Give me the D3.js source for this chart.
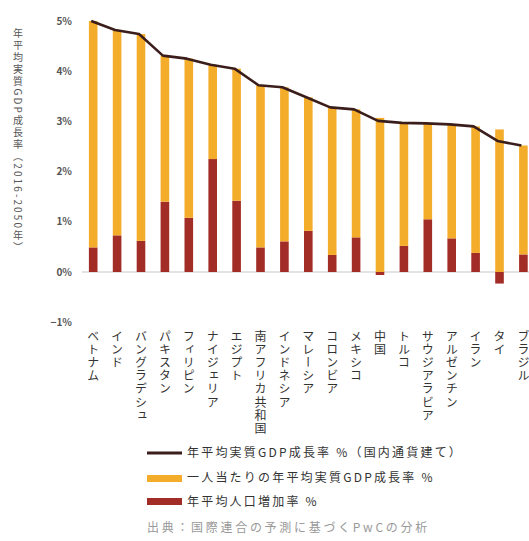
<!DOCTYPE html>
<html><head><meta charset="utf-8">
<script src="https://cdn.jsdelivr.net/npm/d3@7"></script>
<style>
html,body{margin:0;padding:0;background:#fff;}
svg{display:block;font-family:"Noto Sans CJK JP","Noto Sans",sans-serif;}
</style></head>
<body>
<svg id="chart" width="529" height="541"></svg>
<script>
const countries = ["ベトナム","インド","バングラデシュ","パキスタン","フィリピン","ナイジェリア","エジプト","南アフリカ共和国","インドネシア","マレーシア","コロンビア","メキシコ","中国","トルコ","サウジアラビア","アルゼンチン","イラン","タイ","ブラジル"];
const gdpGrowth = [5.0,4.82,4.74,4.31,4.25,4.13,4.05,3.72,3.68,3.48,3.28,3.24,3.01,2.97,2.96,2.94,2.90,2.61,2.52];
const popGrowth = [0.49,0.73,0.62,1.40,1.08,2.25,1.42,0.49,0.61,0.82,0.34,0.69,-0.06,0.52,1.05,0.67,0.38,-0.23,0.35];
const perCapita = [4.51,4.09,4.12,2.91,3.17,1.88,2.63,3.23,3.07,2.66,2.94,2.55,3.07,2.45,1.91,2.27,2.52,2.84,2.17];
const yTicks = [-1,0,1,2,3,4,5];
const yTickLabels = ["−1%","0%","1%","2%","3%","4%","5%"];
const yTitle = "年平均実質GDP成長率（2016-2050年）";
const legendLabels = ["年平均実質GDP成長率 %（国内通貨建て）","一人当たりの年平均実質GDP成長率 %","年平均人口増加率 %"];
const sourceText = "出典：国際連合の予測に基づくPwCの分析";

const C_YEL="#f3ad2b", C_RED="#a22c26", C_LINE="#3b1e1b";
const svg = d3.select("#chart");
const x = d3.scaleBand().domain(countries).range([73.6,543]).paddingInner(0.64).paddingOuter(0.64);
const y = d3.scaleLinear().domain([-1,5]).range([322.2,21]);

// zero line
svg.append("line").attr("x1",82).attr("x2",529).attr("y1",y(0)).attr("y2",y(0))
  .attr("stroke","#c8c8c8").attr("stroke-width",1.2);

// y tick labels
svg.append("g").selectAll("text").data(yTicks).join("text")
  .attr("x",72).attr("y",d=>y(d)).attr("dy","0.35em").attr("text-anchor","end")
  .attr("font-size",10).attr("fill","#555").attr("font-weight","bold")
  .text((d,i)=>yTickLabels[i]);

// y title (vertical writing)
svg.append("text").attr("x",18).attr("y",28)
  .style("writing-mode","vertical-rl")
  .attr("font-size",10).attr("letter-spacing",2.1).attr("fill","#555")
  .text(yTitle);

// stacked bars (diverging)
const rows = countries.map((c,i)=>({c, pop:popGrowth[i], pc:perCapita[i]}));
const stack = d3.stack().keys(["pop","pc"]).offset(d3.stackOffsetDiverging);
const series = stack(rows);
const colors = {pop:C_RED, pc:C_YEL};
svg.append("g").selectAll("g").data(series).join("g").attr("fill",s=>colors[s.key])
  .selectAll("rect").data(s=>s).join("rect")
  .attr("x",d=>x(d.data.c)).attr("width",x.bandwidth())
  .attr("y",d=>y(Math.max(d[0],d[1])))
  .attr("height",d=>Math.abs(y(d[0])-y(d[1])));

// total GDP line
const line = d3.line().x(d=>x(d[0])+x.bandwidth()/2-2).y(d=>y(d[1]));
svg.append("path").datum(countries.map((c,i)=>[c,gdpGrowth[i]]))
  .attr("d",line).attr("fill","none").attr("stroke",C_LINE).attr("stroke-width",2.6)
  .attr("stroke-linejoin","round");

// category labels
svg.append("g").selectAll("text").data(countries).join("text")
  .attr("x",d=>x(d)+x.bandwidth()/2).attr("y",330)
  .style("writing-mode","vertical-rl")
  .attr("font-size",12).attr("letter-spacing",1.2).attr("fill","#333")
  .text(d=>d);

// legend
const lg = svg.append("g");
lg.append("line").attr("x1",147).attr("x2",182).attr("y1",453).attr("y2",453)
  .attr("stroke",C_LINE).attr("stroke-width",3);
lg.append("rect").attr("x",147).attr("y",475).attr("width",35).attr("height",7).attr("fill",C_YEL);
lg.append("rect").attr("x",147).attr("y",498).attr("width",35).attr("height",7).attr("fill",C_RED);
lg.selectAll("text.lab").data(legendLabels).join("text").attr("class","lab")
  .attr("x",187).attr("y",(d,i)=>453+i*24.5).attr("dy","0.35em")
  .attr("font-size",12).attr("letter-spacing",2.2).attr("fill","#333").text(d=>d);
svg.append("text").attr("x",147).attr("y",528).attr("dy","0.35em")
  .attr("font-size",12).attr("letter-spacing",2.7).attr("fill","#999").text(sourceText);
</script>
</body></html>
